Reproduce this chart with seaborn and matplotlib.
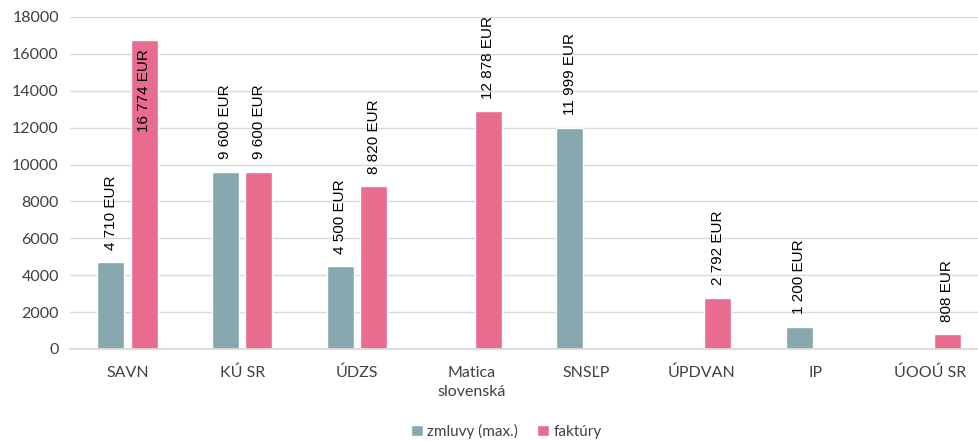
import numpy as np
import pandas as pd
import seaborn as sns
import matplotlib.pyplot as plt

# Data
categories = ["SAVN", "KÚ SR", "ÚDZS", "Matica\nslovenská", "SNSĽP", "ÚPDVAN", "IP", "ÚOOÚ SR"]
zmluvy = [4710, 9600, 4500, np.nan, 11999, np.nan, 1200, np.nan]
faktury = [16774, 9600, 8820, 12878, np.nan, 2792, np.nan, 808]
series = ["zmluvy (max.)", "faktúry"]
colors = ["#86A8AE", "#E86C8E"]

sns.set_theme(style="white")
plt.rcParams['font.family'] = ['Lato', 'DejaVu Sans']

df = pd.DataFrame({
    "kategoria": categories * 2,
    "seria": [series[0]] * len(categories) + [series[1]] * len(categories),
    "hodnota": zmluvy + faktury,
}).dropna()

fig = plt.figure(figsize=(9.79, 4.41), dpi=100)
# plot area runs a bit past the right edge, like in the original export
ax = fig.add_axes([70 / 979, 92 / 441, 918 / 979, 332 / 441])

sns.barplot(data=df, x="kategoria", y="hodnota", hue="seria",
            order=categories, hue_order=series, palette=colors,
            width=0.584, gap=0.2, saturation=1, ax=ax, legend=True)

ax.set_ylim(0, 18000)
ax.set_yticks(range(0, 18001, 2000))
ax.yaxis.grid(True, color="#D9D9D9", linewidth=1)
ax.set_axisbelow(True)
for s in ["top", "right", "left"]:
    ax.spines[s].set_visible(False)
ax.spines["bottom"].set_color("#D9D9D9")
ax.tick_params(axis="both", length=0, labelsize=11.5, colors="#404040", pad=8)
ax.tick_params(axis="x", pad=12)
for lbl in ax.get_xticklabels():
    lbl.set_linespacing(1.45)
ax.set_xlabel("")
ax.set_ylabel("")

# value labels
for bar in ax.patches:
    v = bar.get_height()
    if np.isnan(v) or v <= 0 or bar.get_width() == 0:
        continue
    txt = f"{v:,.0f}".replace(",", " ") + " EUR"
    xc = bar.get_x() + bar.get_width() / 2
    if v > 15000:
        ax.annotate(txt, (xc, v), xytext=(0, -7), textcoords="offset points",
                    rotation=90, ha="center", va="top", fontsize=11,
                    family="Liberation Sans", color="black")
    else:
        ax.annotate(txt, (xc, v), xytext=(0, 9), textcoords="offset points",
                    rotation=90, ha="center", va="bottom", fontsize=11,
                    family="Liberation Sans", color="black")

handles, labels = ax.get_legend_handles_labels()
ax.get_legend().remove()
fig.legend(handles, labels, loc="center", bbox_to_anchor=(0.517, 0.022), ncol=2,
           frameon=False, fontsize=11, handlelength=0.8, handleheight=0.8,
           handletextpad=0.3, columnspacing=1.2, labelcolor="#404040")

fig.savefig("out.png", dpi=100)
